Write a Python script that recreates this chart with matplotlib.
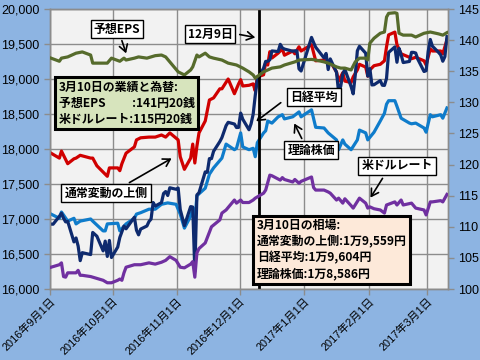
import matplotlib
matplotlib.use('Agg')
import matplotlib.pyplot as plt
import matplotlib.dates as mdates
import pandas as pd
from matplotlib.ticker import FuncFormatter
from matplotlib.patches import FancyArrowPatch

plt.rcParams['font.family'] = ['Liberation Sans', 'Noto Sans CJK JP']

# ---------------- data ----------------
nikkei_dates = [
    '2016-09-01', '2016-09-02', '2016-09-05', '2016-09-06', '2016-09-07', '2016-09-08', '2016-09-09',
    '2016-09-12', '2016-09-13', '2016-09-14', '2016-09-15', '2016-09-16', '2016-09-20', '2016-09-21',
    '2016-09-23', '2016-09-26', '2016-09-27', '2016-09-28', '2016-09-29', '2016-09-30',
    '2016-10-03', '2016-10-04', '2016-10-05', '2016-10-06', '2016-10-07', '2016-10-11', '2016-10-12',
    '2016-10-13', '2016-10-14', '2016-10-17', '2016-10-18', '2016-10-19', '2016-10-20', '2016-10-21',
    '2016-10-24', '2016-10-25', '2016-10-26', '2016-10-27', '2016-10-28', '2016-10-31',
    '2016-11-01', '2016-11-02', '2016-11-04', '2016-11-07', '2016-11-08', '2016-11-09', '2016-11-10',
    '2016-11-11', '2016-11-14', '2016-11-15', '2016-11-16', '2016-11-17', '2016-11-18', '2016-11-21',
    '2016-11-22', '2016-11-24', '2016-11-25', '2016-11-28', '2016-11-29', '2016-11-30',
    '2016-12-01', '2016-12-02', '2016-12-05', '2016-12-06', '2016-12-07', '2016-12-08', '2016-12-09',
    '2016-12-12', '2016-12-13', '2016-12-14', '2016-12-15', '2016-12-16', '2016-12-19', '2016-12-20',
    '2016-12-21', '2016-12-22', '2016-12-26', '2016-12-27', '2016-12-28', '2016-12-29', '2016-12-30',
    '2017-01-04', '2017-01-05', '2017-01-06', '2017-01-10', '2017-01-11', '2017-01-12', '2017-01-13',
    '2017-01-16', '2017-01-17', '2017-01-18', '2017-01-19', '2017-01-20', '2017-01-23', '2017-01-24',
    '2017-01-25', '2017-01-26', '2017-01-27', '2017-01-30', '2017-01-31',
    '2017-02-01', '2017-02-02', '2017-02-03', '2017-02-06', '2017-02-07', '2017-02-08', '2017-02-09',
    '2017-02-10', '2017-02-13', '2017-02-14', '2017-02-15', '2017-02-16', '2017-02-17', '2017-02-20',
    '2017-02-21', '2017-02-22', '2017-02-23', '2017-02-24', '2017-02-27', '2017-02-28',
    '2017-03-01', '2017-03-02', '2017-03-03', '2017-03-06', '2017-03-07', '2017-03-08', '2017-03-09',
    '2017-03-10']
nikkei_values = [
    16927, 16926, 17038, 17082, 17012, 16959, 16966,
    16673, 16729, 16614, 16405, 16519, 16492, 16808,
    16754, 16545, 16684, 16465, 16694, 16450,
    16599, 16736, 16819, 16899, 16860, 17025, 16840,
    16774, 16856, 16900, 16964, 16999, 17235, 17185,
    17234, 17365, 17392, 17336, 17446, 17425,
    17442, 17135, 16905, 17177, 17171, 16252, 17344,
    17375, 17673, 17668, 17863, 17862, 17967, 18106,
    18163, 18333, 18381, 18357, 18307, 18308,
    18513, 18426, 18275, 18361, 18497, 18765, 18996,
    19155, 19251, 19254, 19274, 19401, 19392, 19495,
    19444, 19428, 19397, 19403, 19402, 19145, 19114,
    19594, 19521, 19454, 19301, 19365, 19135, 19287,
    19095, 18814, 18894, 19072, 19138, 18891, 18788,
    19058, 19402, 19467, 19369, 19041,
    19148, 18915, 18918, 18977, 18911, 18908, 19008,
    19379, 19459, 19239, 19438, 19348, 19235, 19251,
    19381, 19380, 19371, 19284, 19107, 19119,
    19394, 19565, 19469, 19379, 19344, 19254, 19319,
    19605]

theory_dates = [
    '2016-09-01', '2016-09-05', '2016-09-06', '2016-09-09', '2016-09-12', '2016-09-13', '2016-09-15',
    '2016-09-20', '2016-09-21', '2016-09-26', '2016-09-27', '2016-09-28', '2016-10-03', '2016-10-04',
    '2016-10-07', '2016-10-11', '2016-10-12', '2016-10-14', '2016-10-18', '2016-10-21', '2016-10-24',
    '2016-10-27', '2016-10-31', '2016-11-02', '2016-11-04', '2016-11-07', '2016-11-08', '2016-11-09',
    '2016-11-10', '2016-11-11', '2016-11-14', '2016-11-16', '2016-11-18', '2016-11-22', '2016-11-24',
    '2016-11-28', '2016-11-29', '2016-12-01', '2016-12-02', '2016-12-05', '2016-12-07', '2016-12-08',
    '2016-12-09', '2016-12-12', '2016-12-13', '2016-12-14', '2016-12-16', '2016-12-19', '2016-12-21',
    '2016-12-22', '2016-12-26', '2016-12-29', '2016-12-30', '2017-01-04', '2017-01-06', '2017-01-10',
    '2017-01-12', '2017-01-16', '2017-01-17', '2017-01-19', '2017-01-20', '2017-01-23', '2017-01-26',
    '2017-01-27', '2017-01-30', '2017-01-31', '2017-02-03', '2017-02-06', '2017-02-08', '2017-02-09',
    '2017-02-10', '2017-02-13', '2017-02-14', '2017-02-16', '2017-02-20', '2017-02-21', '2017-02-23',
    '2017-02-27', '2017-02-28', '2017-03-02', '2017-03-03', '2017-03-07', '2017-03-08', '2017-03-10']
theory_values = [
    17070, 17010, 17100, 16970, 17010, 16930, 16970,
    17000, 16970, 16830, 16830, 16930, 16940, 16830,
    16930, 17010, 17070, 17090, 17140, 17140, 17210,
    17230, 17210, 17070, 16870, 17040, 17160, 16970,
    17330, 17360, 17440, 17640, 17730, 17870, 18070,
    17990, 18010, 18230, 18030, 17990, 18010, 17890,
    18090, 18230, 18260, 18400, 18370, 18460, 18490,
    18430, 18460, 18530, 18460, 18560, 18310, 18300,
    18230, 18130, 17990, 18130, 18070, 17990, 18130,
    18270, 18230, 18130, 18240, 18400, 18510, 18640,
    18690, 18690, 18610, 18440, 18370, 18360, 18370,
    18300, 18240, 18490, 18460, 18490, 18440, 18586]

upper_dates = [
    '2016-09-01', '2016-09-05', '2016-09-06', '2016-09-09', '2016-09-12', '2016-09-13', '2016-09-15',
    '2016-09-20', '2016-09-21', '2016-09-23', '2016-09-26', '2016-09-28', '2016-09-29', '2016-10-03',
    '2016-10-04', '2016-10-05', '2016-10-07', '2016-10-11', '2016-10-12', '2016-10-14', '2016-10-18',
    '2016-10-21', '2016-10-24', '2016-10-26', '2016-10-28', '2016-11-01', '2016-11-02', '2016-11-04',
    '2016-11-07', '2016-11-08', '2016-11-09', '2016-11-10', '2016-11-11', '2016-11-14', '2016-11-16',
    '2016-11-18', '2016-11-21', '2016-11-22', '2016-11-25', '2016-11-28', '2016-11-30', '2016-12-01',
    '2016-12-02', '2016-12-05', '2016-12-07', '2016-12-08', '2016-12-09', '2016-12-12', '2016-12-13',
    '2016-12-14', '2016-12-15', '2016-12-16', '2016-12-19', '2016-12-21', '2016-12-22', '2016-12-26',
    '2016-12-27', '2016-12-29', '2016-12-30', '2017-01-04', '2017-01-06', '2017-01-10', '2017-01-12',
    '2017-01-13', '2017-01-16', '2017-01-17', '2017-01-19', '2017-01-20', '2017-01-23', '2017-01-24',
    '2017-01-26', '2017-01-27', '2017-01-30', '2017-01-31', '2017-02-01', '2017-02-03', '2017-02-06',
    '2017-02-08', '2017-02-09', '2017-02-10', '2017-02-13', '2017-02-14', '2017-02-16', '2017-02-20',
    '2017-02-21', '2017-02-23', '2017-02-27', '2017-02-28', '2017-03-02', '2017-03-03', '2017-03-07',
    '2017-03-08', '2017-03-10']
upper_values = [
    17940, 17870, 17970, 17790, 17860, 17870, 17910,
    17870, 17870, 17760, 17670, 17610, 17730, 17730,
    17690, 17790, 17940, 18030, 18130, 18160, 18170,
    18170, 18200, 18170, 18230, 18130, 17890, 17710,
    17870, 18070, 17800, 18040, 18230, 18400, 18700,
    18730, 18860, 18860, 19000, 18790, 18930, 18990,
    18900, 18910, 18930, 18830, 19030, 19060, 19240,
    19200, 19390, 19300, 19370, 19430, 19340, 19400,
    19360, 19460, 19400, 19490, 19260, 19270, 19240,
    19250, 19100, 18970, 19090, 18970, 18950, 19030,
    19130, 19210, 19170, 19040, 19130, 19190, 19210,
    19260, 19460, 19630, 19670, 19490, 19360, 19310,
    19290, 19310, 19260, 19200, 19430, 19400, 19400,
    19360, 19559]

eps_dates = [
    '2016-09-01', '2016-09-05', '2016-09-06', '2016-09-09', '2016-09-13', '2016-09-16', '2016-09-20',
    '2016-09-21', '2016-09-26', '2016-09-28', '2016-09-30', '2016-10-04', '2016-10-06', '2016-10-07',
    '2016-10-11', '2016-10-13', '2016-10-17', '2016-10-19', '2016-10-21', '2016-10-24', '2016-10-26',
    '2016-10-28', '2016-11-01', '2016-11-04', '2016-11-07', '2016-11-08', '2016-11-10', '2016-11-11',
    '2016-11-14', '2016-11-16', '2016-11-18', '2016-11-22', '2016-11-25', '2016-11-29', '2016-12-02',
    '2016-12-05', '2016-12-07', '2016-12-08', '2016-12-12', '2016-12-14', '2016-12-16', '2016-12-20',
    '2016-12-22', '2016-12-27', '2016-12-29', '2017-01-04', '2017-01-06', '2017-01-10', '2017-01-12',
    '2017-01-16', '2017-01-18', '2017-01-20', '2017-01-23', '2017-01-25', '2017-01-27', '2017-01-30',
    '2017-01-31', '2017-02-01', '2017-02-03', '2017-02-06', '2017-02-08', '2017-02-09', '2017-02-10',
    '2017-02-13', '2017-02-14', '2017-02-15', '2017-02-17', '2017-02-21', '2017-02-23', '2017-02-27',
    '2017-03-02', '2017-03-06', '2017-03-08', '2017-03-10']
eps_values = [
    137.1, 136.6, 137.1, 137.3, 137.9, 138.1, 137.6,
    136.3, 136.3, 136.3, 137.1, 136.6, 137.1, 136.8,
    137.1, 137.3, 137.1, 137.3, 137.5, 137.6, 137.3,
    136.5, 134.9, 134.4, 135.2, 135.7, 137.6, 137.3,
    137.9, 137.3, 137.1, 136.8, 136.3, 136.0, 135.5,
    134.9, 134.4, 133.9, 134.9, 135.2, 135.5, 135.7,
    136.0, 136.5, 136.8, 136.9, 136.8, 136.5, 136.3,
    135.7, 135.5, 135.5, 135.2, 136.5, 137.1, 137.1,
    136.8, 139.5, 140.3, 141.1, 141.3, 143.7, 144.3,
    144.4, 144.3, 141.1, 140.8, 140.8, 140.5, 141.1,
    141.3, 141.0, 140.8, 141.2]

usd_dates = [
    '2016-09-01', '2016-09-05', '2016-09-06', '2016-09-07', '2016-09-08', '2016-09-09', '2016-09-13',
    '2016-09-14', '2016-09-15', '2016-09-16', '2016-09-20', '2016-09-21', '2016-09-26', '2016-09-28',
    '2016-09-30', '2016-10-03', '2016-10-04', '2016-10-05', '2016-10-06', '2016-10-07', '2016-10-11',
    '2016-10-14', '2016-10-18', '2016-10-21', '2016-10-24', '2016-10-26', '2016-10-28', '2016-10-31',
    '2016-11-02', '2016-11-04', '2016-11-07', '2016-11-08', '2016-11-09', '2016-11-10', '2016-11-11',
    '2016-11-14', '2016-11-17', '2016-11-21', '2016-11-22', '2016-11-24', '2016-11-28', '2016-11-29',
    '2016-12-01', '2016-12-02', '2016-12-05', '2016-12-07', '2016-12-08', '2016-12-12', '2016-12-13',
    '2016-12-15', '2016-12-16', '2016-12-20', '2016-12-21', '2016-12-22', '2016-12-26', '2016-12-27',
    '2016-12-29', '2016-12-30', '2017-01-04', '2017-01-05', '2017-01-06', '2017-01-10', '2017-01-12',
    '2017-01-13', '2017-01-16', '2017-01-17', '2017-01-19', '2017-01-20', '2017-01-23', '2017-01-24',
    '2017-01-27', '2017-01-30', '2017-01-31', '2017-02-01', '2017-02-03', '2017-02-06', '2017-02-08',
    '2017-02-09', '2017-02-13', '2017-02-14', '2017-02-16', '2017-02-17', '2017-02-21', '2017-02-23',
    '2017-02-27', '2017-02-28', '2017-03-02', '2017-03-03', '2017-03-07', '2017-03-08', '2017-03-10']
usd_values = [
    103.5, 103.9, 104.2, 102.0, 101.9, 102.6, 102.6,
    103.0, 102.2, 102.2, 102.0, 101.9, 101.4, 101.0,
    101.0, 101.4, 101.6, 101.4, 102.6, 103.5, 103.9,
    103.9, 104.2, 104.0, 104.3, 104.6, 105.2, 104.6,
    103.5, 103.4, 104.0, 104.4, 101.9, 105.8, 106.5,
    107.4, 110.0, 111.1, 112.2, 112.7, 114.3, 113.8,
    114.3, 113.9, 113.9, 114.3, 114.6, 115.4, 115.9,
    118.3, 118.2, 117.5, 117.9, 117.6, 117.2, 117.6,
    117.0, 117.3, 118.0, 116.3, 115.9, 115.9, 115.6,
    115.4, 114.3, 114.6, 113.8, 114.5, 113.4, 113.0,
    114.6, 113.8, 113.0, 113.2, 112.9, 112.7, 112.2,
    113.5, 114.0, 113.5, 114.3, 113.5, 113.8, 113.0,
    112.7, 111.9, 114.0, 114.0, 114.2, 114.0, 115.2]

left_ticks = [16000, 16500, 17000, 17500, 18000, 18500, 19000, 19500, 20000]
right_ticks = [100, 105, 110, 115, 120, 125, 130, 135, 140, 145]

label_eps = '予想EPS'
label_dec9 = '12月9日'
label_nikkei = '日経平均'
label_theory = '理論株価'
label_upper = '通常変動の上側'
label_usd = '米ドルレート'
box_green = '3月10日の業績と為替:\n予想EPS\u3000\u3000 :141円20銭\n米ドルレート:115円20銭'
box_beige = '3月10日の相場:\n通常変動の上側:1万9,559円\n日経平均:1万9,604円\n理論株価:1万8,586円'
event_date = '2016-12-09'

# ---------------- figure ----------------
W, H = 480, 360
fig = plt.figure(figsize=(W / 100, H / 100), dpi=100, facecolor='#8DB4E2')
ax = fig.add_axes([50 / W, 1 - 289 / H, 398 / W, 280 / H])
ax.set_facecolor('#F2F2F2')
ax2 = ax.twinx()

half = pd.Timedelta(hours=12)
def dts(lst):
    return pd.to_datetime(lst) + half

lw = 2.3
ax.plot(dts(upper_dates), upper_values, color='#D00000', lw=lw, zorder=3)
ax.plot(dts(theory_dates), theory_values, color='#0F7CCB', lw=lw, zorder=3)
ax.plot(dts(nikkei_dates), nikkei_values, color='#0E2A6E', lw=lw, zorder=4)
ax2.plot(dts(eps_dates), eps_values, color='#566B2C', lw=lw, zorder=3)
ax2.plot(dts(usd_dates), usd_values, color='#7030A0', lw=lw, zorder=3)

ax.axvline(pd.Timestamp(event_date) + pd.Timedelta(hours=36), color='black', lw=2, zorder=5)

ax.set_xlim(pd.Timestamp('2016-09-01'), pd.Timestamp('2017-03-11'))
ax.set_ylim(left_ticks[0], left_ticks[-1])
ax2.set_ylim(right_ticks[0], right_ticks[-1])
ax.set_yticks(left_ticks)
ax2.set_yticks(right_ticks)
ax.yaxis.set_major_formatter(FuncFormatter(lambda v, p: f'{int(v):,}'))
ax.xaxis.set_major_locator(mdates.MonthLocator())
ax.xaxis.set_major_formatter(FuncFormatter(
    lambda v, p: (lambda d: f'{d.year}年{d.month}月{d.day}日')(mdates.num2date(v))))

ax.set_axisbelow(True)
ax.grid(True, color='#8C8C8C', lw=1)
for a in (ax, ax2):
    for s in a.spines.values():
        s.set_color('#8C8C8C')
        s.set_linewidth(1)
    a.tick_params(colors='#8C8C8C', labelcolor='black', length=4, width=1, labelsize=9)
ax.tick_params(axis='x', labelsize=7.9, pad=1)
for lab in ax.get_xticklabels():
    lab.set_rotation(45)
    lab.set_ha('right')
    lab.set_va('top')
    lab.set_rotation_mode('anchor')

# ---------------- annotations ----------------
def fx(x):
    return x / W
def fy(y):
    return 1 - y / H

jp = ['Noto Sans CJK JP', 'DejaVu Sans']
tsize = 8.6

def label(x, y, s):
    fig.text(fx(x), fy(y), s, ha='center', va='center', fontsize=tsize, family=jp,
             weight='bold', zorder=10,
             bbox=dict(boxstyle='square,pad=0.25', fc='white', ec='black', lw=1))

def arrow(x0, y0, x1, y1):
    fig.add_artist(FancyArrowPatch((fx(x0), fy(y0)), (fx(x1), fy(y1)),
                                   transform=fig.transFigure, arrowstyle='->,head_length=5,head_width=3',
                                   mutation_scale=1, color='black', lw=1.2, zorder=9))

label(117, 29, label_eps)
arrow(121, 38, 127, 56)
label(210, 34, label_dec9)
arrow(237, 34, 258, 38)
label(314, 97, label_nikkei)
arrow(283, 101, 254, 123)
label(311, 150, label_theory)
arrow(303, 141, 293, 121)
label(106, 193, label_upper)
arrow(127, 184, 174, 157)
label(397, 166, label_usd)
arrow(384, 176, 369, 200)

fig.text(fx(59), fy(103), box_green, ha='left', va='center', fontsize=tsize, family=jp,
         weight='bold', linespacing=1.3, zorder=10,
         bbox=dict(boxstyle='square,pad=0.3', fc='#D7E4BD', ec='black', lw=2.2))
fig.text(fx(257), fy(250), box_beige, ha='left', va='center', fontsize=tsize, family=jp,
         weight='bold', linespacing=1.3, zorder=10,
         bbox=dict(boxstyle='square,pad=0.3', fc='#FDE9D9', ec='black', lw=2.2))

fig.savefig('out.png', dpi=100, facecolor=fig.get_facecolor())
